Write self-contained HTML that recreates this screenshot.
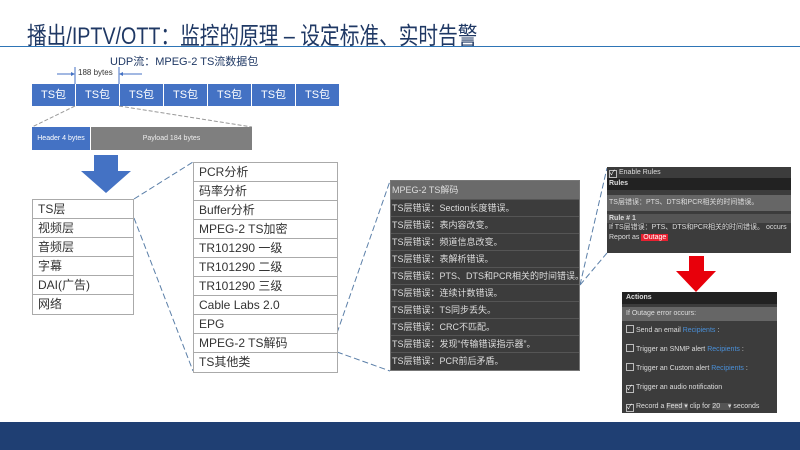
<!DOCTYPE html>
<html><head><meta charset="utf-8"><style>
*{margin:0;padding:0;box-sizing:border-box}
body{width:800px;height:450px;position:relative;background:#fff;font-family:"Liberation Sans","Noto Sans CJK SC",sans-serif;overflow:hidden}
.a{position:absolute}
.title{left:27px;top:16px;font-size:24px;color:#1f3864;white-space:nowrap;transform:scaleX(0.82);transform-origin:0 0}
.ts{top:84px;height:22px;width:43px;background:#4472c4;color:#fff;font-size:11px;line-height:22px;padding-left:9px}
.list{border:1px solid #aaa;background:#fff}
.list div{border-bottom:1px solid #aaa;height:19px;line-height:18px;font-size:12px;color:#333;padding-left:5px;white-space:nowrap}
.list div:last-child{border-bottom:none}
.dk{background:#3c3c3c;border:1px solid #777}
.dk div{height:17px;line-height:16px;font-size:9px;color:#ddd;border-bottom:1px solid #555;padding-left:1px;white-space:nowrap;overflow:hidden}
.cb{display:inline-block;width:8px;height:8px;border:1px solid #bbb;vertical-align:-1px;margin-right:2px;font-size:7px;line-height:6px;color:#fff}
.act div{font-size:7px;color:#ddd;height:19px;line-height:19px;padding-left:4px;white-space:nowrap}
.rc{color:#4a90d9}
</style></head><body>
<div class="a title">播出/IPTV/OTT：监控的原理 – 设定标准、实时告警</div>
<div class="a" style="left:0;top:46px;width:800px;height:1px;background:#2e75b6"></div>
<div class="a" style="left:110px;top:53px;font-size:11px;color:#1f3864">UDP流：MPEG-2 TS流数据包</div>
<div class="a" style="left:78px;top:68px;font-size:8px;color:#333">188 bytes</div>
<svg class="a" style="left:0;top:0" width="800" height="450">
<line x1="57" y1="74" x2="74" y2="74" stroke="#4472c4"/><polygon points="75,74 71,72 71,76" fill="#4472c4"/>
<line x1="120" y1="74" x2="142" y2="74" stroke="#4472c4"/><polygon points="119,74 123,72 123,76" fill="#4472c4"/>
<line x1="75" y1="67" x2="75" y2="84" stroke="#4472c4"/><line x1="119" y1="67" x2="119" y2="84" stroke="#4472c4"/>
<line x1="75" y1="106" x2="32" y2="127" stroke="#999" stroke-dasharray="4,2"/>
<line x1="119" y1="106" x2="252" y2="127" stroke="#999" stroke-dasharray="4,2"/>
<polygon points="94,155 94,171 81,171 106,193 131,171 118,171 118,155" fill="#4472c4"/>
<g stroke="#5b7fa8" stroke-dasharray="6,3" fill="none">
<line x1="134" y1="199" x2="193" y2="162"/>
<line x1="134" y1="218" x2="193" y2="371"/>
<line x1="337" y1="333" x2="390" y2="181"/>
<line x1="337" y1="352" x2="390" y2="371"/>
<line x1="580" y1="285" x2="607" y2="168"/>
<line x1="580" y1="285" x2="607" y2="253"/>
</g>
<polygon points="689,256 704,256 704,271 716,271 696,292 676,271 689,271" fill="#e8000b"/>
</svg>
<div class="a ts" style="left:32px">TS包</div>
<div class="a ts" style="left:76px">TS包</div>
<div class="a ts" style="left:120px">TS包</div>
<div class="a ts" style="left:164px">TS包</div>
<div class="a ts" style="left:208px">TS包</div>
<div class="a ts" style="left:252px">TS包</div>
<div class="a ts" style="left:296px">TS包</div>
<div class="a" style="left:32px;top:127px;width:58px;height:23px;background:#4472c4;color:#fff;font-size:7px;line-height:23px;text-align:center">Header 4 bytes</div>
<div class="a" style="left:91px;top:127px;width:161px;height:23px;background:#7f7f7f;color:#eee;font-size:7px;line-height:23px;text-align:center">Payload 184 bytes</div>
<div class="a list" style="left:32px;top:199px;width:102px">
<div>TS层</div><div>视频层</div><div>音频层</div><div>字幕</div><div>DAI(广告)</div><div>网络</div></div>
<div class="a list" style="left:193px;top:162px;width:145px">
<div>PCR分析</div><div>码率分析</div><div>Buffer分析</div><div>MPEG-2 TS加密</div><div>TR101290 一级</div><div>TR101290 二级</div><div>TR101290 三级</div><div>Cable Labs 2.0</div><div>EPG</div><div>MPEG-2 TS解码</div><div>TS其他类</div></div>
<div class="a dk" style="left:390px;top:180px;width:190px;height:191px">
<div style="background:#6a6a6a;height:19px;line-height:18px">MPEG-2 TS解码</div>
<div>TS层错误：Section长度错误。</div><div>TS层错误：表内容改变。</div><div>TS层错误：频道信息改变。</div><div>TS层错误：表解析错误。</div><div>TS层错误：PTS、DTS和PCR相关的时间错误。</div><div>TS层错误：连续计数错误。</div><div>TS层错误：TS同步丢失。</div><div>TS层错误：CRC不匹配。</div><div>TS层错误：发现“传输错误指示器”。</div><div style="border:none">TS层错误：PCR前后矛盾。</div></div>
<div class="a" style="left:607px;top:167px;width:184px;height:86px;background:#3c3c3c;font-size:7px;color:#ddd">
<div style="height:11px;line-height:11px;padding-left:2px"><span class="cb" style="background:#333">✓</span>Enable Rules</div>
<div style="height:12px;line-height:12px;background:#222;font-weight:bold;padding-left:2px">Rules</div>
<div style="height:16px;line-height:16px;margin-top:5px;background:#666;padding-left:2px">TS层错误：PTS、DTS和PCR相关的时间错误。</div>
<div style="height:9px;line-height:9px;margin-top:3px;background:#555;font-weight:bold;padding-left:2px">Rule # 1</div>
<div style="line-height:10px;padding-left:2px">If TS层错误：PTS、DTS和PCR相关的时间错误。 occurs</div>
<div style="line-height:10px;padding-left:2px">Report as <span style="background:#e82030;color:#fff;padding:0 2px">Outage</span></div></div>
<div class="a act" style="left:622px;top:292px;width:155px;height:121px;background:#3c3c3c">
<div style="height:12px;line-height:12px;background:#222;font-weight:bold">Actions</div>
<div style="height:14px;line-height:14px;background:#666;margin-top:3px">If Outage error occurs:</div>
<div><span class="cb"></span>Send an email <span class="rc">Recipients</span> :</div>
<div><span class="cb"></span>Trigger an SNMP alert <span class="rc">Recipients</span> :</div>
<div><span class="cb"></span>Trigger an Custom alert <span class="rc">Recipients</span> :</div>
<div><span class="cb">✓</span>Trigger an audio notification</div>
<div><span class="cb">✓</span>Record a <span style="background:#555">Feed ▾</span> clip for <span style="background:#555">20 &nbsp;&nbsp; ▾</span> seconds</div></div>
<div class="a" style="left:0;top:422px;width:800px;height:28px;background:#1f3f73"></div>
</body></html>
